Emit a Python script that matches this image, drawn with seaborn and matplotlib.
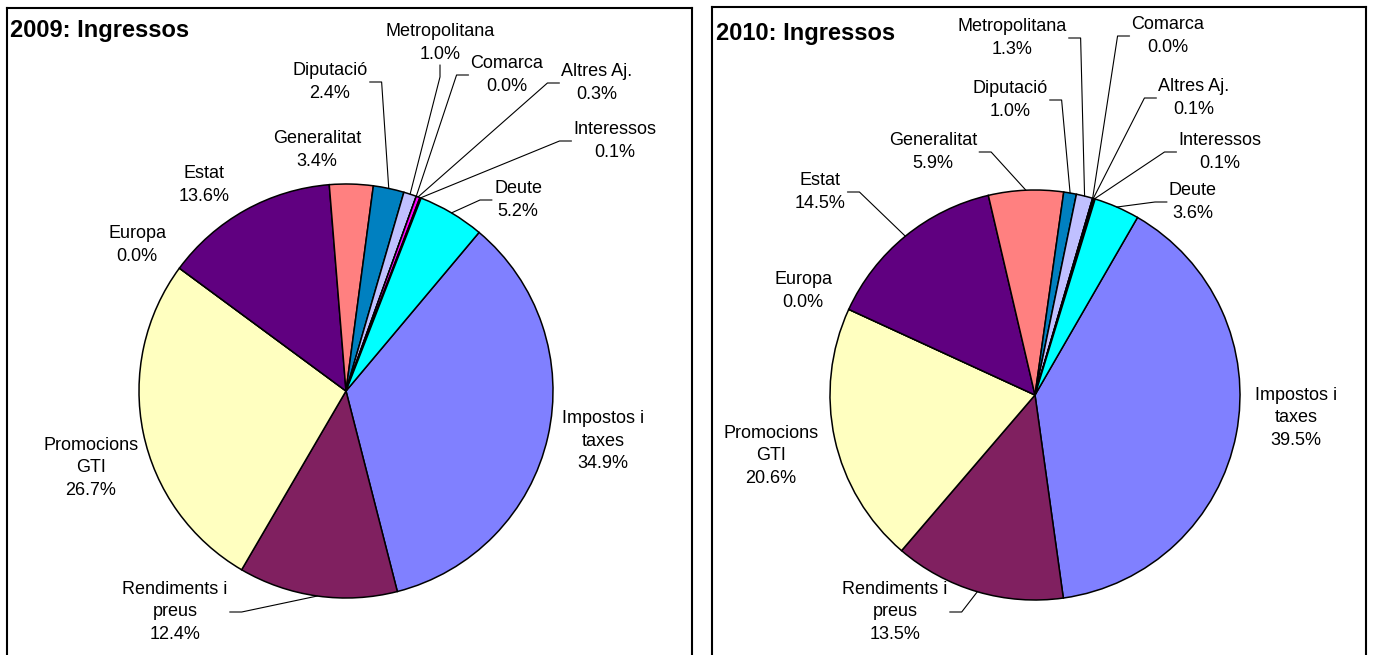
import matplotlib
matplotlib.use("Agg")
import matplotlib.pyplot as plt
import seaborn as sns
import numpy as np

# data
categories = ["Impostos i\ntaxes", "Rendiments i\npreus", "Promocions\nGTI", "Europa", "Estat",
              "Generalitat", "Diputació", "Metropolitana", "Comarca", "Altres Aj.",
              "Interessos", "Deute"]
values_2009 = [34.9, 12.4, 26.7, 0.0, 13.6, 3.4, 2.4, 1.0, 0.0, 0.3, 0.1, 5.2]
values_2010 = [39.5, 13.5, 20.6, 0.0, 14.5, 5.9, 1.0, 1.3, 0.0, 0.1, 0.1, 3.6]
titles = ["2009: Ingressos", "2010: Ingressos"]

slice_colors = ["#8080FF", "#802060", "#FFFFC0", "#00C000", "#600080", "#FF8080",
                "#0080C0", "#C0C0FF", "#000080", "#FF00FF", "#000080", "#00FFFF"]

# layout (pixels): label block centres
label_px_2009 = [(603, 441), (175, 612), (91, 468), (137, 245), (204, 185), (317, 150),
                 (330, 82), (440, 43), (507, 75), (597, 83), (615, 141), (518, 200)]
label_px_2010 = [(1296, 418), (895, 612), (771, 456), (803, 291), (820, 192), (933, 152),
                 (1010, 100), (1012, 38), (1168, 36), (1194, 98), (1220, 152), (1193, 202)]

W, H = 1373, 655
panels = [
    dict(values=values_2009, labels=label_px_2009, title=titles[0],
         box=(7, 692, 8), center=(346, 391), R=207, start=40, title_xy=(10, 37)),
    dict(values=values_2010, labels=label_px_2010, title=titles[1],
         box=(712, 1366, 7), center=(1035, 395), R=205, start=30, title_xy=(716, 40)),
]

sns.set_style("white")
plt.rcParams['font.family'] = ['Liberation Sans', 'Arial', 'DejaVu Sans']
plt.rcParams['text.color'] = 'black'

fig = plt.figure(figsize=(W / 100, H / 100), dpi=100)
palette = sns.color_palette(slice_colors)

drawn = []
for p in panels:
    x0, x1, ytop = p['box']
    ybot = H + 20
    cx, cy = p['center']
    R = p['R']
    ax = fig.add_axes([x0 / W, (H - ybot) / H, (x1 - x0) / W, (ybot - ytop) / H])
    wedges, _ = ax.pie(p['values'], colors=palette, startangle=90 - p['start'],
                       counterclock=False, radius=1,
                       wedgeprops=dict(edgecolor='black', linewidth=1.1))
    ax.set_aspect('auto')
    ax.set_xlim((x0 - cx) / R, (x1 - cx) / R)
    ax.set_ylim((cy - ybot) / R, (cy - ytop) / R)
    ax.set_frame_on(True)
    ax.set_xticks([])
    ax.set_yticks([])
    for side, sp in ax.spines.items():
        sp.set_visible(True)
        sp.set_color('black')
        sp.set_linewidth(1.5)

    texts = []
    for name, val, (px, py) in zip(categories, p['values'], p['labels']):
        t = ax.text((px - cx) / R, (cy - py) / R, f"{name}\n{val:.1f}%",
                    ha='center', va='center', fontsize=13, linespacing=1.45,
                    color='black')
        texts.append(t)
    fig.text(p['title_xy'][0] / W, 1 - p['title_xy'][1] / H, p['title'],
             fontsize=17, fontweight='bold', va='baseline', ha='left', color='black')
    drawn.append((ax, wedges, texts, R))

fig.canvas.draw()
renderer = fig.canvas.get_renderer()

for ax, wedges, texts, R in drawn:
    gap, tick = 2 / R, 12 / R
    inv = ax.transData.inverted()
    for w, t in zip(wedges, texts):
        th = np.deg2rad((w.theta1 + w.theta2) / 2)
        axx, axy = np.cos(th), np.sin(th)
        bb = t.get_window_extent(renderer).transformed(inv)
        nx = min(max(axx, bb.x0), bb.x1)
        ny = min(max(axy, bb.y0), bb.y1)
        if np.hypot(axx - nx, axy - ny) < 28 / R:
            continue
        mid_y = (bb.y0 + bb.y1) / 2
        if axx < bb.x0:
            xs = [bb.x0 - gap, bb.x0 - gap - tick, axx]
            ys = [mid_y, mid_y, axy]
        elif axx > bb.x1:
            xs = [bb.x1 + gap, bb.x1 + gap + tick, axx]
            ys = [mid_y, mid_y, axy]
        else:
            mx = (bb.x0 + bb.x1) / 2
            xs = [mx, mx, axx]
            ys = [bb.y0 - gap, bb.y0 - gap - tick, axy]
        ax.plot(xs, ys, color='black', linewidth=0.8)

fig.savefig("out.png", dpi=100)
